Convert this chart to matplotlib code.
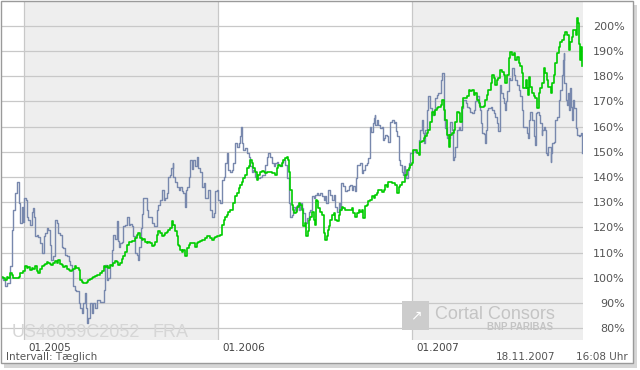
import matplotlib
matplotlib.use("Agg")
import matplotlib.pyplot as plt
import matplotlib.dates as mdates
import matplotlib.transforms as mtrans
from matplotlib.patches import Rectangle
import numpy as np

# (days since 18.11.2004, percent)
stock_pts = [
    (1, 100), (4, 99), (8, 96.6), (11, 98), (17, 104.5), (20, 119), (23, 127), (26, 133.7),
    (30, 138.2), (33, 129.7), (36, 121.8), (39, 128.3), (41, 122), (43, 131.7), (47, 131),
    (48, 124.3), (51, 123), (55, 121), (58, 126), (60, 127.8), (62, 124.3), (64, 116.4),
    (67, 117), (70, 116), (73, 113.9), (77, 109.9), (80, 116.4), (83, 117.8), (86, 119.8),
    (89, 119), (92, 113), (95, 107.1), (98, 108.5), (102, 123), (105, 121.8), (108, 117.8),
    (111, 117), (114, 112.4), (117, 111.8), (120, 109), (124, 108.5), (127, 106.5),
    (130, 105.2), (133, 103), (136, 96.6), (139, 95.3), (142, 94.6), (146, 90), (149, 88),
    (152, 86), (155, 90), (158, 94), (160, 88), (161, 82), (164, 84), (168, 90), (171, 86),
    (174, 90), (177, 88), (180, 91.3), (183, 91.3), (186, 90.5), (193, 95.2), (196, 105.2),
    (199, 99.2), (202, 100), (205, 105.2), (208, 111), (210, 116.4), (211, 116.8),
    (215, 115.6), (218, 122.4), (220, 114.8), (222, 112.4), (224, 114), (227, 114.4),
    (230, 120.4), (233, 121), (237, 124.3), (240, 121), (243, 121.5), (246, 120.6),
    (249, 116.4), (252, 109.9), (255, 109), (258, 107.1), (260, 112.4), (264, 119.8),
    (266, 125.5), (268, 131.6), (271, 131.6), (274, 127), (277, 124.3), (280, 124.3),
    (284, 121.8), (287, 120.4), (290, 120.4), (293, 127), (296, 129), (299, 131),
    (303, 134.9), (306, 131), (309, 131.6), (312, 133.6), (315, 140.2), (318, 140.8),
    (320, 143.5), (323, 145.5), (324, 140.2), (328, 138.2), (331, 136.2), (334, 134.9),
    (337, 136.2), (340, 134.3), (343, 133.6), (346, 128.3), (348, 134.9), (350, 136.2),
    (353, 140.2), (356, 146.8), (359, 143), (362, 146.8), (365, 144.2), (368, 148.1),
    (371, 143.5), (375, 142.2), (378, 136.2), (381, 137.5), (384, 131.6), (387, 131.6),
    (390, 134.9), (393, 127), (397, 124.3), (400, 125.6), (403, 134.3), (406, 134.9),
    (409, 130.9), (412, 129.6), (415, 138.9), (419, 140.2), (422, 145.5), (425, 149.5),
    (428, 142.9), (431, 142.2), (434, 142.9), (437, 145.5), (441, 153.5), (444, 152.1),
    (447, 153.5), (450, 156.1), (452, 160), (454, 153.5), (456, 150.8), (459, 151.5),
    (463, 149.5), (466, 148.1), (469, 144.2), (472, 142.2), (475, 142.9), (478, 140.2),
    (481, 140.2), (484, 139.6), (488, 140.2), (491, 140.8), (494, 140.8), (497, 144.8),
    (500, 148.1), (503, 149.5), (506, 148.1), (510, 145.5), (513, 144.2), (516, 145.5),
    (519, 146.1), (522, 144.8), (525, 144.2), (528, 146.1), (531, 146.8), (535, 144.8),
    (538, 139.6), (541, 129.6), (543, 125), (544, 124.3), (547, 124.9), (550, 128.3),
    (553, 127), (557, 129), (560, 127), (563, 129.7), (566, 127.7), (569, 125.7),
    (572, 121.7), (575, 123.7), (579, 126.3), (582, 127), (585, 132.3), (588, 131.6),
    (591, 133), (594, 133.6), (597, 133), (601, 133.6), (604, 132.3), (607, 131),
    (610, 132.3), (611, 129.6), (616, 134.9), (619, 132.9), (623, 131), (626, 132.9),
    (629, 128.3), (632, 126.3), (635, 129.6), (638, 127), (640, 137.6), (644, 136.3),
    (648, 134.3), (651, 135), (654, 136.3), (657, 137), (660, 135), (663, 136.3),
    (666, 134.3), (668, 139.6), (670, 144.8), (673, 144.8), (676, 145.5), (679, 141.5),
    (682, 142.9), (685, 144.8), (688, 145.5), (691, 147.5), (695, 160), (697, 158),
    (699, 161.4), (701, 163.4), (703, 164.7), (704, 160.7), (707, 162.7), (710, 160.7),
    (713, 159.5), (717, 160), (719, 154.8), (721, 155.4), (723, 156.7), (726, 156.1),
    (729, 154.1), (732, 162), (736, 162.7), (739, 161.4), (742, 162), (744, 158.1),
    (745, 156.1), (748, 146.8), (751, 144.8), (754, 142.2), (756, 140.9), (759, 144.2),
    (761, 140.9), (762, 139.6), (765, 142.9), (767, 145.5), (770, 149.5), (773, 149.5),
    (776, 150.8), (779, 150.1), (783, 150.1), (786, 154.8), (789, 158.7), (792, 162.7),
    (794, 157.4), (795, 153.5), (798, 158.7), (801, 166.7), (804, 172), (808, 167.3),
    (811, 164.7), (814, 166.7), (817, 171.3), (820, 172.6), (823, 173.3), (827, 178.6),
    (830, 181.2), (833, 178.6), (834, 162.7), (836, 159.4), (839, 155.4), (842, 155.4),
    (845, 162), (849, 158.7), (850, 146.8), (853, 148.1), (855, 152.1), (858, 158.7),
    (861, 160), (864, 158.7), (867, 167.3), (870, 170.6), (874, 169.3), (877, 168),
    (880, 167.3), (883, 166), (886, 165.3), (889, 166.7), (892, 170), (896, 172),
    (899, 168.7), (902, 166.7), (903, 161.4), (905, 157.4), (908, 157), (911, 153.5),
    (913, 158.7), (914, 166.7), (917, 167.3), (921, 168), (924, 166.7), (927, 165.3),
    (930, 164), (933, 161.4), (936, 158.1), (938, 172), (939, 176.6), (941, 173.3),
    (944, 171.3), (946, 169.3), (949, 166.7), (950, 170), (952, 174), (955, 179.2),
    (958, 178.6), (961, 183.2), (965, 180.6), (968, 178.6), (971, 176.6), (974, 174.6),
    (977, 172), (980, 166.7), (983, 160), (987, 160), (990, 157.4), (992, 155.4),
    (994, 162.7), (996, 166), (999, 162.7), (1002, 156.1), (1004, 152.8), (1007, 165.3),
    (1009, 166), (1012, 164.7), (1015, 161.4), (1017, 156.5), (1018, 158.7), (1021, 160),
    (1024, 158.7), (1026, 149.5), (1027, 148.8), (1030, 152.1), (1034, 146.1),
    (1035, 149.5), (1037, 153.5), (1040, 154.1), (1043, 162.7), (1046, 164),
    (1049, 170.6), (1052, 174.6), (1056, 180.6), (1057, 186.5), (1059, 189.2),
    (1060, 177.3), (1063, 170.6), (1065, 168.7), (1067, 173.3), (1069, 166.7),
    (1071, 175.3), (1073, 168), (1074, 162.7), (1077, 170.6), (1079, 167.3),
    (1081, 159.4), (1084, 156.7), (1087, 156.1), (1090, 156.7), (1092, 157.4), (1094, 149.5),
]

index_pts = [
    (1, 100.5), (4, 100), (8, 99.2), (11, 100.5), (14, 100), (17, 101.8), (20, 101.2),
    (23, 99.9), (26, 99.9), (30, 99.9), (33, 100.5), (36, 101.8), (39, 102.1), (42, 102.5),
    (45, 104.5), (48, 103.8), (51, 104.1), (55, 103.2), (58, 103.8), (61, 103.4),
    (64, 104.5), (67, 102.5), (70, 101.8), (73, 103.4), (77, 104.5), (80, 105.2),
    (83, 105.6), (86, 106.1), (89, 105.8), (92, 105.6), (95, 105.2), (98, 105.8),
    (102, 106.5), (105, 105.8), (108, 106.9), (111, 105.6), (114, 105.2), (117, 104.2),
    (120, 104.5), (124, 103.4), (127, 102.9), (130, 102.5), (133, 103.2), (136, 103.4),
    (139, 104.5), (142, 103.8), (146, 103.2), (149, 99.2), (152, 98.5), (155, 98.1),
    (158, 97.9), (161, 98.5), (164, 99.2), (168, 99.5), (171, 99.9), (174, 100.3),
    (177, 100.8), (180, 101.2), (186, 101.8), (190, 102.5), (193, 104.5), (196, 104.2),
    (199, 104.8), (202, 103.8), (205, 105.2), (208, 104.8), (211, 105.8), (215, 106.5),
    (218, 106.1), (221, 105.2), (224, 105.8), (227, 107.4), (230, 108.5), (233, 110.4),
    (237, 113.1), (240, 114.4), (243, 114.4), (246, 114.8), (249, 114.7), (252, 115.7),
    (255, 117), (258, 117.7), (262, 115.7), (265, 115.1), (268, 115.3), (271, 114.4),
    (274, 114), (277, 114.1), (280, 113.8), (284, 112.8), (287, 113.1), (290, 114.4),
    (293, 117), (296, 118.4), (299, 117.7), (303, 116.7), (306, 117), (309, 117.7),
    (312, 118), (315, 119), (318, 119.7), (321, 122.7), (324, 121), (328, 118.4),
    (331, 116.4), (333, 113.1), (334, 112.7), (337, 111.1), (340, 110.4), (343, 111.1),
    (346, 108.7), (350, 111.7), (353, 113.1), (356, 113.8), (362, 113.8), (365, 112.4),
    (368, 113.8), (371, 114.4), (375, 114.7), (378, 115.1), (381, 115.1), (384, 115.7),
    (387, 116.4), (390, 116.7), (393, 115.7), (397, 115.1), (400, 115.7), (403, 116.1),
    (406, 116.7), (409, 116.7), (412, 117), (415, 121), (419, 123), (422, 124.1),
    (425, 125), (428, 126.3), (431, 127), (434, 127), (437, 129.6), (441, 132.3),
    (444, 133.6), (447, 135.6), (450, 136.9), (453, 138.2), (456, 139.6), (459, 140.9),
    (463, 143.5), (466, 144.2), (469, 146.8), (472, 145.5), (475, 143.5), (478, 142.2),
    (481, 138.9), (484, 140.9), (488, 142.2), (491, 142.6), (494, 142.2), (497, 141.5),
    (500, 141.9), (503, 142.2), (506, 142.2), (510, 141.5), (513, 141.5), (516, 140.9),
    (519, 143.5), (522, 144.8), (525, 144.2), (528, 145.5), (531, 146.8), (535, 147.5),
    (538, 148.1), (540, 146.8), (542, 142.2), (544, 134.9), (547, 129), (550, 127),
    (552, 125.6), (555, 126.3), (557, 128.3), (560, 129.6), (563, 129), (566, 127),
    (569, 120.4), (572, 121.7), (574, 116.4), (577, 118.4), (579, 123), (582, 124.3),
    (585, 126.3), (588, 123), (590, 121), (592, 131), (594, 130.3), (597, 127.7),
    (601, 126.3), (604, 125), (607, 117.7), (610, 115.1), (613, 116.4), (615, 119),
    (618, 120.4), (619, 123), (623, 125), (626, 125.6), (629, 123), (632, 122.4),
    (635, 125), (638, 127), (641, 128.3), (644, 127.7), (648, 127), (651, 127),
    (654, 127), (657, 127), (660, 127.7), (663, 125.6), (666, 124.3), (670, 125.6),
    (673, 127), (676, 126.3), (679, 127), (681, 123.7), (684, 127), (685, 128.6),
    (688, 129), (691, 130.3), (695, 131), (698, 132.3), (701, 131.6), (704, 133),
    (707, 133.6), (710, 134.9), (717, 133.9), (720, 134.9), (723, 136.9), (726, 136.2),
    (729, 138.2), (732, 138.2), (736, 137.5), (739, 137.8), (742, 136.9), (745, 133.6),
    (748, 136.2), (751, 136.9), (754, 138.2), (757, 138.2), (761, 140.9), (764, 142.9),
    (767, 143.5), (770, 144.8), (773, 145.5), (776, 150.8), (779, 150.8), (783, 149.5),
    (786, 148.8), (789, 154.1), (792, 154.5), (795, 155.4), (798, 156.1), (801, 157.4),
    (804, 158.7), (808, 162), (811, 166), (814, 164.7), (817, 166.7), (820, 167.3),
    (823, 168), (827, 168.7), (830, 170.6), (833, 166.7), (836, 162.7), (839, 156.7),
    (842, 152.1), (845, 156.7), (849, 157.4), (852, 158.7), (855, 162), (858, 166),
    (861, 165.3), (864, 162), (867, 168), (870, 171.3), (874, 171.3), (877, 172),
    (880, 174.6), (883, 174), (886, 174.6), (889, 172.6), (892, 173.3), (896, 170.6),
    (899, 169.3), (902, 168), (905, 167.7), (908, 168.3), (911, 170.6), (914, 172.6),
    (917, 174.6), (921, 177.3), (924, 180.6), (927, 179.3), (930, 176.6), (933, 178.6),
    (936, 179.3), (939, 182.5), (943, 181.9), (946, 180.6), (949, 177.3), (952, 180.6),
    (955, 187.2), (958, 189.8), (961, 188.5), (965, 189.2), (968, 186.5), (971, 187.8),
    (974, 185.2), (977, 183.9), (980, 181.2), (983, 175.3), (987, 178.6), (990, 175.3),
    (992, 172.6), (994, 179.9), (996, 175.9), (999, 173.3), (1002, 172), (1005, 171.3),
    (1009, 167.3), (1012, 173.3), (1015, 175.3), (1018, 177.3), (1021, 183.2),
    (1024, 181.2), (1027, 178.6), (1030, 175.9), (1034, 173.3), (1037, 177.3),
    (1040, 180.6), (1043, 185.2), (1046, 189.2), (1049, 191.8), (1052, 193.8),
    (1056, 194.5), (1059, 196.5), (1062, 197.7), (1065, 196.5), (1068, 190.5),
    (1071, 193.8), (1074, 195.8), (1077, 198.4), (1081, 196.5), (1084, 203), (1086, 201),
    (1088, 193), (1090, 186.5), (1092, 191.8), (1094, 183.9),
]

yticks = [80, 90, 100, 110, 120, 130, 140, 150, 160, 170, 180, 190, 200]
years = [2005, 2006, 2007]
shaded_years = [2005, 2007]

start = np.datetime64("2004-11-18")
stock_days, stock_vals = zip(*stock_pts)
index_days, index_vals = zip(*index_pts)
stock_dates = start + np.array(stock_days).astype("timedelta64[D]")
index_dates = start + np.array(index_days).astype("timedelta64[D]")

fig = plt.figure(figsize=(6.4, 3.7), dpi=100)
fig.patch.set_facecolor("white")

# frame with a soft shadow
W, H = 640.0, 370.0
fig.patches.append(Rectangle((4 / W, 1 - 368 / H), 633 / W, 363 / H, transform=fig.transFigure,
                             facecolor="#d6d6d6", edgecolor="none", zorder=-3))
fig.patches.append(Rectangle((0, 1 - 363 / H), 633 / W, 363 / H, transform=fig.transFigure,
                             facecolor="white", edgecolor="none", zorder=-2))
fig.patches.append(Rectangle((0.5 / W, 1 - 363 / H), 632.5 / W, 362.5 / H, transform=fig.transFigure,
                             facecolor="none", edgecolor="#9a9a9a", lw=1.0, zorder=10))

ax = fig.add_axes([1 / W, 30 / H, 582 / W, 339 / H])
ax.set_facecolor("white")
for s in ax.spines.values():
    s.set_visible(False)

for yr in shaded_years:
    ax.axvspan(np.datetime64(f"{yr}-01-01"), np.datetime64(f"{yr + 1}-01-01"),
               color="#eeeeee", lw=0, zorder=0)
for y in yticks:
    ax.axhline(y, color="#c8c8c8", lw=0.9, zorder=1)
for yr in years:
    ax.axvline(np.datetime64(f"{yr}-01-01"), color="#c8c8c8", lw=0.9, zorder=1)

ax.plot(stock_dates, stock_vals, color="#7888ad", lw=1.0, drawstyle="steps-post", zorder=3)
ax.plot(index_dates, index_vals, color="#00cc00", lw=1.2, drawstyle="steps-post", zorder=4)

ax.set_xlim(start, np.datetime64("2007-11-18"))
ax.set_ylim(75.3, 209.9)

ax.set_yticks(yticks)
ax.set_yticklabels([f"{v}%" for v in yticks], ha="right", fontsize=8, color="#555555")
ax.yaxis.tick_right()
ax.tick_params(axis="y", length=0, pad=30)

ax.set_xticks([np.datetime64(f"{yr}-01-01") for yr in years])
ax.xaxis.set_major_formatter(mdates.DateFormatter("%m.%Y"))
ax.tick_params(axis="x", length=0, pad=2, labelsize=7.5, labelcolor="#444444")
off = mtrans.ScaledTranslation(3 / 72, 0, fig.dpi_scale_trans)
for lab in ax.get_xticklabels():
    lab.set_ha("left")
    lab.set_transform(lab.get_transform() + off)

# watermark and logo
ax.text(0.019, 0.009, "US46059C2052", transform=ax.transAxes, fontsize=13,
        family="Liberation Sans", color="#d6d6d6", zorder=2)
ax.text(0.261, 0.009, "FRA", transform=ax.transAxes, fontsize=13,
        family="Liberation Sans", color="#d6d6d6", zorder=2)
ax.add_patch(Rectangle((0.689, 0.03), 0.047, 0.085, transform=ax.transAxes,
                       facecolor="#cccccc", edgecolor="none", zorder=2))
ax.text(0.712, 0.072, "\u2197", transform=ax.transAxes, fontsize=10, color="white",
        ha="center", va="center", zorder=2)
ax.text(0.746, 0.062, "Cortal Consors", transform=ax.transAxes, fontsize=13,
        family="Liberation Sans", color="#c4c4c4", zorder=2)
ax.text(0.948, 0.03, "BNP PARIBAS", transform=ax.transAxes, fontsize=7, fontweight="bold",
        family="Liberation Sans", color="#c4c4c4", ha="right", zorder=2)

fig.text(6 / W, 1 - 357 / H, "Intervall: T\u00e6glich", fontsize=7.5, color="#555555", va="center")
fig.text(555 / W, 1 - 357 / H, "18.11.2007", fontsize=7.5, color="#555555", va="center", ha="right")
fig.text(628 / W, 1 - 357 / H, "16:08 Uhr", fontsize=7.5, color="#555555", va="center", ha="right")

fig.savefig("out.png", dpi=100)
